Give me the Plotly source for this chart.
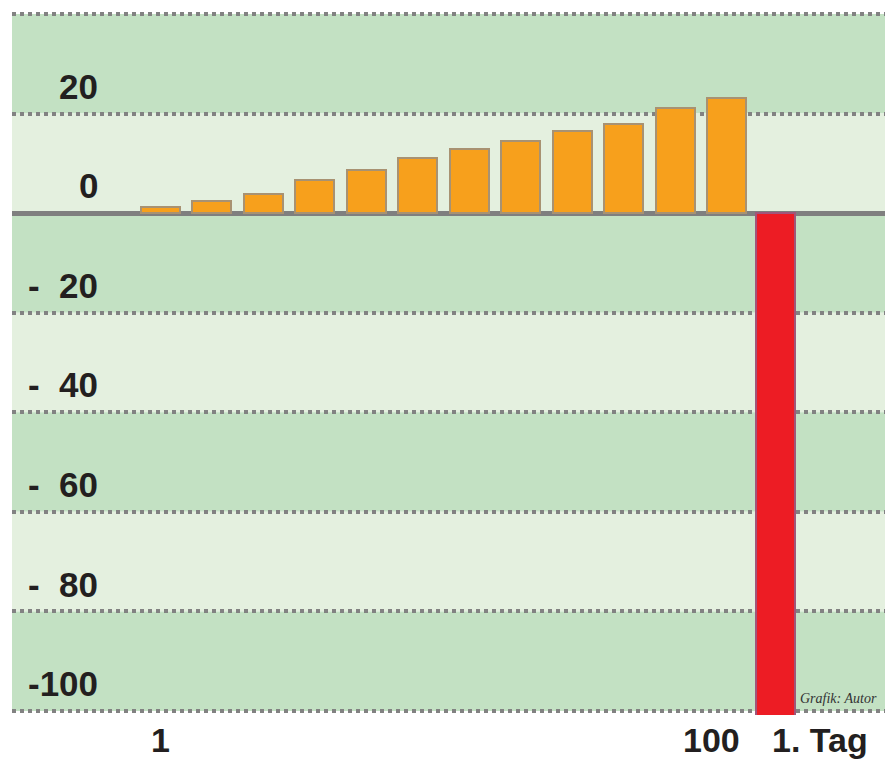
import plotly.graph_objects as go

# ---- data ----
day_index = [1, 2, 3, 4, 5, 6, 7, 8, 9, 10, 11, 12]
orange_values = [1.3, 2.4, 3.8, 6.6, 8.6, 11.0, 12.8, 14.4, 16.4, 18.0, 21.2, 23.1]
red_index = [12.94]
red_values = [-101]
y_label_values = [20, 0, -20, -40, -60, -80, -100]
y_label_texts = ["20", "0", "-\u00a0\u00a020", "-\u00a0\u00a040", "-\u00a0\u00a060", "-\u00a0\u00a080", "-100"]
x_label_pos = [1, 11.7, 13.8]
x_label_texts = ["1", "100", "1. Tag"]
credit = "Grafik: Autor"

DARK = "#c3e1c3"
LIGHT = "#e4f0df"
GRID = "#828282"
FONT = "Liberation Sans"

fig = go.Figure()
fig.add_trace(go.Bar(
    x=day_index, y=orange_values, width=0.757,
    marker=dict(color="#f7a01c", line=dict(color="#a89272", width=2)),
))
fig.add_trace(go.Bar(
    x=red_index, y=red_values, width=0.757, cliponaxis=False,
    marker=dict(color="#ed1c24", line=dict(color="#a0567a", width=2)),
))

# background bands
bands = [(40, 20, DARK), (20, 0, LIGHT), (0, -20, DARK), (-20, -40, LIGHT),
         (-40, -60, DARK), (-60, -80, LIGHT), (-80, -100, DARK)]
for top, bot, col in bands:
    fig.add_shape(type="rect", xref="paper", yref="y", x0=0, x1=1, y0=bot, y1=top,
                  fillcolor=col, line=dict(width=0), layer="below")

annotations = []
for v, t in zip(y_label_values, y_label_texts):
    annotations.append(dict(x=0.1008, xref="paper", y=v + 5.5, yref="y", text=f"<b>{t}</b>",
                            showarrow=False, xanchor="right", yanchor="middle",
                            font=dict(family=FONT, size=35, color="#231f20")))
for xp, t in zip(x_label_pos, x_label_texts):
    annotations.append(dict(x=xp, xref="x", y=-0.0355, yref="paper", text=f"<b>{t}</b>",
                            showarrow=False, xanchor="center", yanchor="middle",
                            font=dict(family=FONT, size=34, color="#231f20")))
annotations.append(dict(x=0.9935, xref="paper", y=-97.5, yref="y", text=f"<i>{credit}</i>",
                        showarrow=False, xanchor="right", yanchor="middle",
                        font=dict(family="Liberation Serif", size=14, color="#333333")))

fig.update_layout(
    width=885, height=760,
    margin=dict(l=12, r=0, t=11, b=45),
    paper_bgcolor="white", plot_bgcolor="white",
    showlegend=False, bargap=0,
    annotations=annotations,
    xaxis=dict(range=[-1.88, 15.07], showgrid=False, zeroline=False, showticklabels=False,
               showline=False, ticks=""),
    yaxis=dict(range=[-100.8, 40.6], tickvals=[40, 20, -20, -40, -60, -80, -100],
               showgrid=True, gridcolor=GRID, gridwidth=3.5, griddash="4px,4px",
               zeroline=True, zerolinecolor="#7f7f7f", zerolinewidth=5,
               showticklabels=False, ticks="", showline=False),
)

fig.write_html("out.html")
